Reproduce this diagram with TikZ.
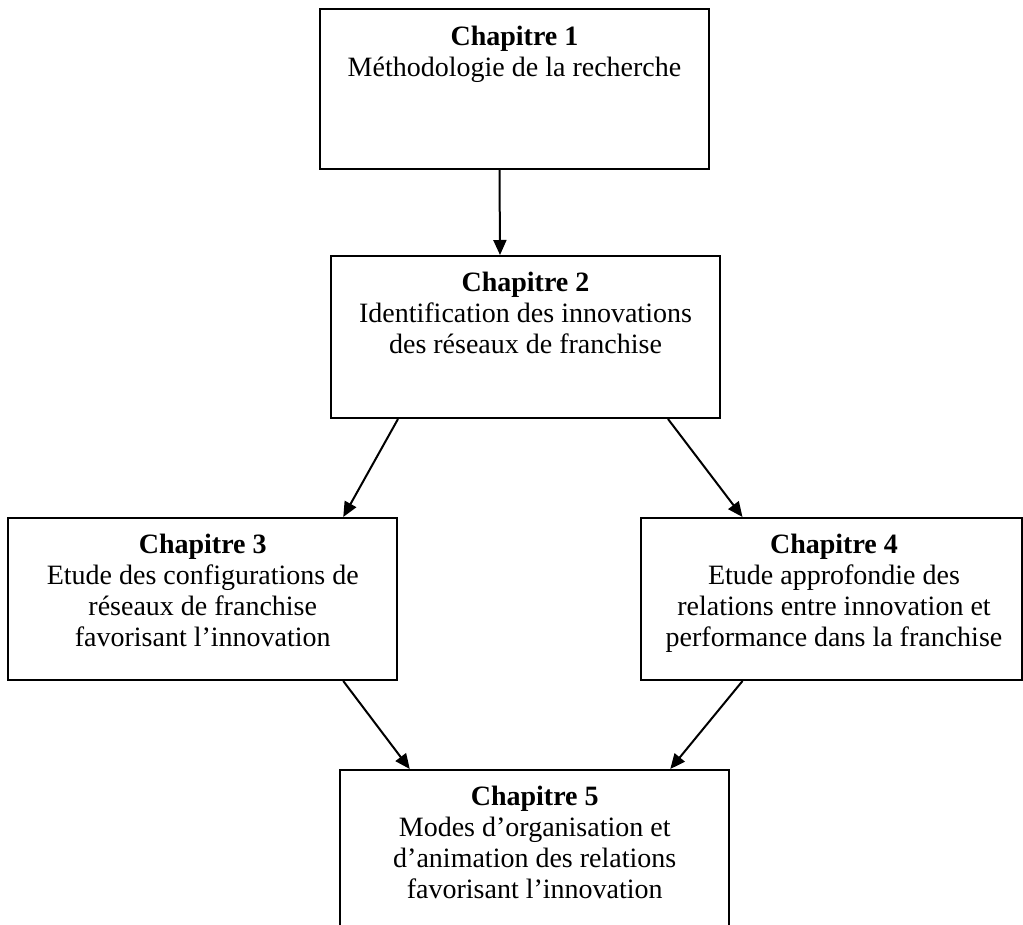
\documentclass[tikz,border=0pt]{standalone}
\usepackage{fontspec}
\setmainfont{Liberation Serif}
\usetikzlibrary{arrows.meta}

\tikzset{
  chapbox/.style={draw, line width=2pt, rectangle, minimum width=389pt, minimum height=162pt, inner sep=0pt},
  chaptext/.style={anchor=north, align=center, inner sep=0pt, font=\fontsize{28}{31}\selectfont},
  arr/.style={-{Triangle[length=15pt,width=13pt]}, line width=2pt}
}

\begin{document}
\begin{tikzpicture}[x=1pt, y=-1pt]
        \useasboundingbox (0,0) rectangle (1023,925);
        \clip (0,0) rectangle (1023,925);

        % boxes
        \node[chapbox, minimum height=160pt] (c1) at (514.5,89)  {};
        \node[chapbox]                       (c2) at (525.5,337) {};
        \node[chapbox]                       (c3) at (202.75,599) {};
        \node[chapbox, minimum width=381pt]  (c4) at (831,599)   {};
        \node[chapbox, minimum height=200pt] (c5) at (534.75,870) {};

        % texts
        \node[chaptext] (t1) at (514.5,25.5)  {\textbf{Chapitre 1}\\Méthodologie de la recherche};
        \node[chaptext] (t2) at (525.5,271.5) {\textbf{Chapitre 2}\\Identification des innovations\\des réseaux de franchise};
        \node[chaptext] (t3) at (202.75,533.5) {\textbf{Chapitre 3}\\Etude des configurations de\\réseaux de franchise\\favorisant l’innovation};
        \node[chaptext] (t4) at (834,533.5)   {\textbf{Chapitre 4}\\Etude approfondie des\\relations entre innovation et\\performance dans la franchise};
        \node[chaptext] (t5) at (534.75,785.5) {\textbf{Chapitre 5}\\Modes d’organisation et\\d’animation des relations\\favorisant l’innovation};

        % arrows
        \draw[arr] ([xshift=-15pt]c1.south)      -- ([xshift=-25.5pt]c2.north);
        \draw[arr] ([xshift=68pt]c2.south west)  -- ([xshift=-55pt]c3.north east);
        \draw[arr] ([xshift=-53pt]c2.south east) -- ([xshift=103pt]c4.north west);
        \draw[arr] ([xshift=-55pt]c3.south east) -- ([xshift=70.5pt]c5.north west);
        \draw[arr] ([xshift=103pt]c4.south west) -- ([xshift=-60pt]c5.north east);
\end{tikzpicture}
\end{document}
